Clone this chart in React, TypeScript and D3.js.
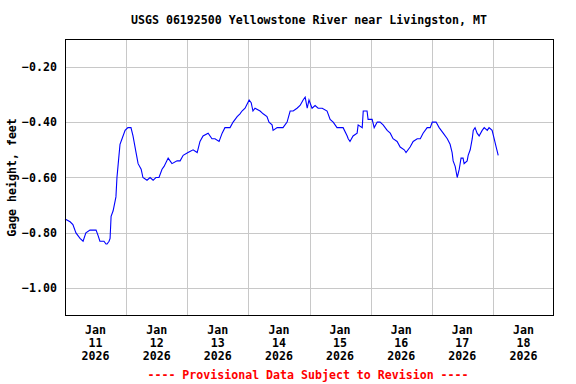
import * as d3 from "d3";
import React from "react";

// hours since Jan 11 2026 00:00 and gage height (ft)
const hours = [
  0, 2.0, 3.1, 4.3, 5.9, 7.1, 8.2, 9.8, 11.0, 12.2, 13.0, 13.7, 14.5, 15.3, 16.1, 16.5, 17.3, 17.7, 18.1, 18.9,
  20.0, 20.4, 21.0, 21.6, 22.4, 23.6, 24.7, 25.9, 26.7, 27.9, 28.7, 29.9, 30.6, 32.2, 33.4, 34.6, 35.7, 36.9, 38.1, 38.9,
  40.5, 42.0, 44.0, 45.2, 46.4, 48.3, 50.3, 51.9, 53.0, 54.2, 56.2, 57.7, 58.9, 60.5, 61.7, 62.8, 64.8, 66.0, 67.6, 68.7,
  69.5, 70.7, 72.3, 73.1, 73.8, 74.6, 76.6, 77.8, 79.3, 80.1, 81.3, 81.7, 83.3, 84.5, 85.6, 87.2, 88.4, 89.6, 91.1, 92.3,
  93.5, 94.3, 95.1, 95.8, 97.0, 98.2, 99.4, 101.0, 102.9, 104.1, 105.3, 106.8, 108.0, 109.2, 110.8, 111.2, 111.9, 113.1, 114.7, 115.1,
  116.7, 117.1, 118.6, 119.0, 120.6, 121.4, 122.6, 123.7, 124.9, 126.5, 127.7, 128.8, 130.4, 131.6, 133.2, 133.9, 135.5, 136.7, 138.3, 139.5,
  140.6, 142.2, 143.4, 144.2, 145.7, 146.9, 148.5, 150.1, 151.2, 152.0, 152.4, 153.2, 154.0, 154.8, 155.5, 156.3, 156.7, 157.9, 158.3, 159.1,
  159.9, 160.3, 161.0, 161.8, 162.6, 163.8, 164.6, 165.8, 166.5, 167.7, 168.5, 169.3, 170.1,
];
const gage = [
  -0.75, -0.76, -0.77, -0.8, -0.82, -0.83, -0.8, -0.79, -0.79, -0.79, -0.81, -0.83, -0.83, -0.83, -0.84, -0.84, -0.83, -0.82, -0.74, -0.72,
  -0.67, -0.6, -0.54, -0.48, -0.46, -0.43, -0.42, -0.42, -0.45, -0.51, -0.55, -0.57, -0.6, -0.61, -0.6, -0.61, -0.6, -0.6, -0.57, -0.56,
  -0.53, -0.55, -0.54, -0.54, -0.52, -0.51, -0.5, -0.51, -0.47, -0.45, -0.44, -0.46, -0.46, -0.47, -0.44, -0.42, -0.42, -0.4, -0.38, -0.37,
  -0.36, -0.35, -0.32, -0.33, -0.36, -0.35, -0.36, -0.37, -0.38, -0.4, -0.41, -0.43, -0.42, -0.42, -0.42, -0.4, -0.36, -0.36, -0.35, -0.34,
  -0.32, -0.31, -0.35, -0.32, -0.35, -0.34, -0.35, -0.35, -0.36, -0.39, -0.4, -0.42, -0.42, -0.42, -0.45, -0.46, -0.47, -0.45, -0.44, -0.41,
  -0.42, -0.36, -0.36, -0.39, -0.39, -0.42, -0.4, -0.4, -0.41, -0.43, -0.44, -0.46, -0.47, -0.49, -0.5, -0.51, -0.49, -0.47, -0.46, -0.46,
  -0.44, -0.42, -0.42, -0.4, -0.4, -0.42, -0.44, -0.46, -0.48, -0.51, -0.54, -0.56, -0.6, -0.57, -0.53, -0.53, -0.55, -0.54, -0.52, -0.5,
  -0.46, -0.43, -0.42, -0.44, -0.45, -0.43, -0.42, -0.43, -0.42, -0.43, -0.46, -0.49, -0.52,
];
const yTicks = [-0.2, -0.4, -0.6, -0.8, -1.0];
const dayLabels = ["11", "12", "13", "14", "15", "16", "17", "18"];

const W = 576;
const H = 384;
const left = 65;
const right = 554;
const top = 39;
const bottom = 316;
const font = "'DejaVu Sans Mono', monospace";

export default function App() {
  const start = new Date(2026, 0, 11);
  const x = d3.scaleTime().domain([start, new Date(2026, 0, 19)]).range([left, right]);
  const y = d3.scaleLinear().domain([-1.1, -0.1]).range([bottom, top]);

  const data = hours.map((h, i) => ({ t: new Date(start.getTime() + h * 3600000), v: gage[i] }));
  const line = d3
    .line<{ t: Date; v: number }>()
    .x((d) => x(d.t))
    .y((d) => y(d.v));

  const dayGrid = d3.timeDay.range(new Date(2026, 0, 12), new Date(2026, 0, 19));

  return (
    <svg width={W} height={H} style={{ position: "absolute", left: 0, top: 0, background: "#fff" }}>
      <rect x={0} y={0} width={W} height={H} fill="#fff" />
      <text x={309} y={24} textAnchor="middle" fontFamily={font} fontWeight="bold" fontSize={11.6}>
        USGS 06192500 Yellowstone River near Livingston, MT
      </text>

      {yTicks.map((t) => (
        <line key={t} x1={left} x2={right} y1={Math.round(y(t)) + 0.5} y2={Math.round(y(t)) + 0.5} stroke="#c8c8c8" />
      ))}
      {dayGrid.map((d) => (
        <line key={+d} x1={Math.round(x(d)) + 0.5} x2={Math.round(x(d)) + 0.5} y1={top} y2={bottom} stroke="#c8c8c8" />
      ))}

      <path d={line(data) ?? ""} fill="none" stroke="#0000ff" strokeWidth={1.1} />

      <rect x={left + 0.5} y={top + 0.5} width={right - left - 1} height={bottom - top - 1} fill="none" stroke="#000" />

      {yTicks.map((t) => (
        <text key={t} x={57} y={y(t) + 4} textAnchor="end" fontFamily={font} fontWeight="bold" fontSize={11.6}>
          {d3.format(".2f")(t)}
        </text>
      ))}
      <text
        transform={`translate(16,${(top + bottom) / 2}) rotate(-90)`}
        textAnchor="middle"
        fontFamily={font}
        fontWeight="bold"
        fontSize={11.6}
      >
        Gage height, feet
      </text>

      {dayLabels.map((lab, i) => {
        const cx = x(new Date(2026, 0, 11 + i, 12));
        return (
          <text key={lab} x={cx} textAnchor="middle" fontFamily={font} fontWeight="bold" fontSize={11.6}>
            <tspan x={cx} y={334}>Jan</tspan>
            <tspan x={cx} y={347}>{lab}</tspan>
            <tspan x={cx} y={360}>2026</tspan>
          </text>
        );
      })}

      <text x={308} y={379} textAnchor="middle" fontFamily={font} fontWeight="bold" fontSize={11.6} fill="#ff0000">
        ---- Provisional Data Subject to Revision ----
      </text>
    </svg>
  );
}
